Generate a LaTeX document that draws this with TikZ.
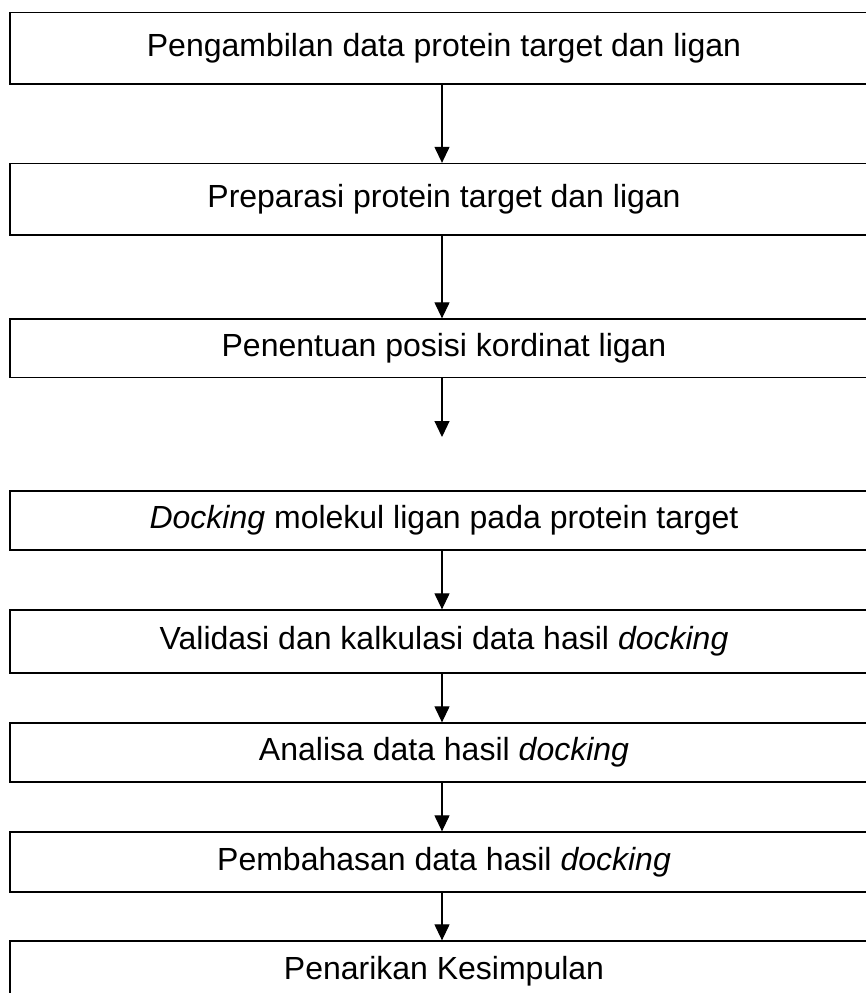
\documentclass[tikz,border=0pt]{standalone}
\usepackage{fontspec}
\setmainfont{Liberation Sans}
\usetikzlibrary{arrows.meta}
\begin{document}
\begin{tikzpicture}[x=1pt,y=1pt,
  box/.style={draw, line width=1.3pt, inner sep=0pt, minimum width=868pt, font=\fontsize{32}{38}\selectfont},
  arr/.style={line width=1.2pt, -{Triangle[width=15pt,length=16pt]}}]
\useasboundingbox (0,0) rectangle (866,-993);
\node[box, minimum height=71.5pt] (b1) at (444,-48.25) {Pengambilan data protein target dan ligan};
\node[box, minimum height=71.5pt] (b2) at (444,-199.25) {Preparasi protein target dan ligan};
\node[box, minimum height=58.7pt] (b3) at (444,-348.35) {Penentuan posisi kordinat ligan};
\node[box, minimum height=59pt] (b4) at (444,-520.5) {\textit{Docking} molekul ligan pada protein target};
\node[box, minimum height=63pt] (b5) at (444,-641.5) {Validasi dan kalkulasi data hasil \textit{docking}};
\node[box, minimum height=59pt] (b6) at (444,-752.5) {Analisa data hasil \textit{docking}};
\node[box, minimum height=60pt] (b7) at (444,-862) {Pembahasan data hasil \textit{docking}};
\node[box, minimum height=60pt] (b8) at (444,-971) {Penarikan Kesimpulan};
\coordinate (c4) at (442,-437);
\draw[arr] ([xshift=-2pt]b1.south) -- ([xshift=-2pt]b2.north);
\draw[arr] ([xshift=-2pt]b2.south) -- ([xshift=-2pt]b3.north);
\draw[arr] ([xshift=-2pt]b3.south) -- (c4);
\draw[arr] ([xshift=-2pt]b4.south) -- ([xshift=-2pt]b5.north);
\draw[arr] ([xshift=-2pt]b5.south) -- ([xshift=-2pt]b6.north);
\draw[arr] ([xshift=-2pt]b6.south) -- ([xshift=-2pt]b7.north);
\draw[arr] ([xshift=-2pt]b7.south) -- ([xshift=-2pt]b8.north);
\end{tikzpicture}
\end{document}
